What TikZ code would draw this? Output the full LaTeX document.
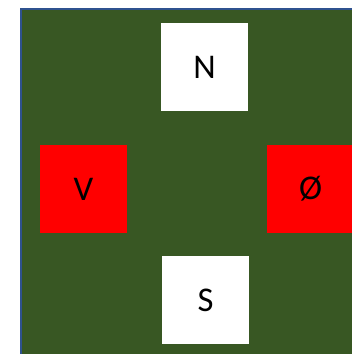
\documentclass[tikz,border=0pt]{standalone}
\usepackage{fontspec}
\setmainfont{Carlito}
\usepackage{xcolor}

\tikzset{
  tile/.style={minimum width=65.25pt, minimum height=66pt, inner sep=0.75pt, font=\fontsize{26}{30}\selectfont},
  northsouth/.style={tile, fill=white},
  eastwest/.style={tile, fill={rgb, 255:red, 255; green, 0; blue, 0 }}
}

\begin{document}
\begin{tikzpicture}[x=0.75pt,y=0.75pt,yscale=-1,xscale=1]
\clip (0,0) rectangle (352,354); %diagram is 352 wide and 354 high

%Shape: Square [id:field] 
\draw  [color={rgb, 255:red, 47; green, 82; blue, 143 }  ,draw opacity=1 ][fill={rgb, 255:red, 56; green, 87; blue, 35 }  ,fill opacity=1 ][line width=1.5]  (21,9) -- (372,9) -- (372,374) -- (21,374) -- cycle ;

% Text Node
\node [northsouth] (north) at (204.5,67) {N};
% Text Node
\node [eastwest] (west) at (83.5,189) {V};
% Text Node
\node [eastwest] (east) at (310.5,189) {Ø};
% Text Node
\node [northsouth] (south) at (205.5,300) {S};

\end{tikzpicture}
\end{document}
